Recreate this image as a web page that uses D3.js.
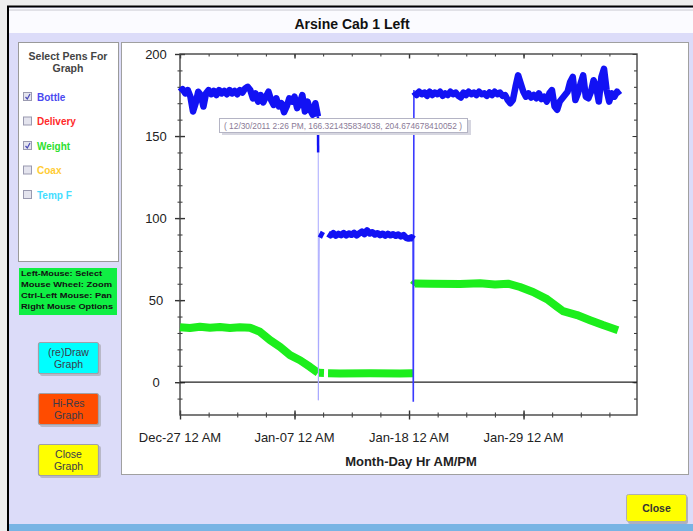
<!DOCTYPE html>
<html>
<head>
<meta charset="utf-8">
<script src="https://cdn.jsdelivr.net/npm/d3@7"></script>
<style>
  html, body { margin: 0; padding: 0; background: #ededed; }
  svg { display: block; font-family: "Liberation Sans", Arial, sans-serif; }
</style>
</head>
<body>
<svg id="chart" width="693" height="531"></svg>
<script>
// ---------------- DATA ----------------
const chartTitle = "Arsine Cab 1 Left";
const xAxisTitle = "Month-Day Hr AM/PM";
// time is expressed in days after Dec-27-2011 12 AM
const xTickDays   = [0, 11, 22, 33];
const xTickLabels = ["Dec-27 12 AM", "Jan-07 12 AM", "Jan-18 12 AM", "Jan-29 12 AM"];
const yTickValues = [0, 50, 100, 150, 200];
const yTickLabels = ["0", "50", "100", "150", "200"];

const pens = ["Bottle", "Delivery", "Weight", "Coax", "Temp F"];
const penChecked = [true, false, true, false, false];
const penColors = ["#4a4af0", "#ff2a2a", "#2ee02e", "#ffcc33", "#44ddff"];

const helpLines = ["Left-Mouse: Select", "Mouse Wheel: Zoom", "Ctrl-Left Mouse: Pan", "Right Mouse Options"];
const buttons = [["(re)Draw", "Graph"], ["Hi-Res", "Graph"], ["Close", "Graph"]];
const buttonColors = ["#00ffff", "#ff4c00", "#ffff00"];
const tooltipText = "( 12/30/2011 2:26 PM, 166.321435834038, 204.674678410052 )";

// Bottle pen, logged every 0.25 day
const bottleStep = 0.25;
const bottle1Start = 0;
const bottle1 = [177,178.5,176,178,174,165,170,177,175,168,176,178,175.5,177.5,175,178,176,177.5,175.5,178,
  176,177.5,175.5,178,176.5,179,180,178,173,176,171,175,170.5,174,177,172,169,173,168,170,
  164.5,168,173,171,174,167,170,175,165,171,166,163,170,162];
const bottle2aStart = 13.38;
const bottle2a = [90.5, 89.2];
const bottle2bStart = 14.22;
const bottle2b = [90.5,89.5,90.8,89.3,90.4,89.6,90.9,89.4,90.6,89.8,91,89.5,90.7,91.8,90.2,92.5,90.6,91.4,90,90.8,
  89.6,90.5,89.3,90.4,89.5,90.2,89.2,90,88.8,89.6,88,87.5,88.3,87.2];
const bottle3Start = 22.48;
const bottle3 = [177,175,177,175.5,176.5,174.5,177,175,176.5,175.5,177,174.5,176,175,177,175.5,176.5,174.5,173.5,176.5,
  175,177,175.5,176.5,175,177,175.5,176,174.5,176.5,175,177,175.5,176.5,174.5,175,172,170,172,180,
  187,182,177,174,176,173.5,175,173,176,172.5,174,171,176,178,168,166,171,173,175,177,
  183,186,172,176,182,187,174,173,177,184,180,171,186,191,178,171,176,174,177,175];
// Bottle pen drops between the segments: [day, value]
const bottleDrop1 = [[13.25, 162], [13.27, 140]];
const bottleLink1 = [[13.28, 140], [13.29, -11], [13.38, 90.5]];
const bottleLink2 = [[22.39, 87.2], [22.41, -12], [22.47, 178]];

// Weight pen: [day, value]
const weight1  = [[0,33.5],[0.96,33],[1.92,33.8],[2.88,33.2],[3.84,33.6],[4.8,33],[5.76,33.5],[6.72,33.2],
  [7.68,30.7],[8.65,25.6],[9.61,21.5],[10.57,16.5],[11.53,13.4],[12.49,9.3],[13.26,5.7]];
const weight2a = [[13.36,5.7],[13.83,5.6]];
const weight2b = [[14.22,5.4],[15.37,5.3],[18.25,5.5],[21.13,5.3],[22.38,5.4]];
const weight3  = [[22.42,59],[22.55,60.2],[24.02,60],[26.9,59.8],[28.82,60.3],[30.26,59.5],[31.51,60],
  [32.66,58],[33.91,55],[35.25,50.6],[36.22,46],[36.79,43.3],[38.14,40.9],[39.39,37.8],[40.63,34.8],[42.07,31.7]];

// ---------------- DRAW ----------------
const START = new Date(2011, 11, 27, 0, 0, 0).getTime();
const DAY = 864e5;
const toDate = d => new Date(START + d * DAY);

const svg = d3.select("#chart");

// window chrome
svg.append("rect").attr("x", 0).attr("y", 0).attr("width", 693).attr("height", 531).attr("fill", "#eeeeee");
svg.append("rect").attr("x", 8).attr("y", 6).attr("width", 685).attr("height", 525).attr("fill", "#dcdcf9");
svg.append("rect").attr("x", 8).attr("y", 8).attr("width", 685).attr("height", 25).attr("fill", "#fbfbff");
svg.append("line").attr("x1", 9).attr("x2", 693).attr("y1", 10).attr("y2", 10).attr("stroke", "#c8c8d0");
svg.append("line").attr("x1", 7).attr("x2", 693).attr("y1", 6.5).attr("y2", 6.5).attr("stroke", "#000").attr("stroke-width", 2);
svg.append("line").attr("x1", 8).attr("x2", 8).attr("y1", 6).attr("y2", 531).attr("stroke", "#000").attr("stroke-width", 2);
svg.append("rect").attr("x", 9).attr("y", 524).attr("width", 684).attr("height", 7).attr("fill", "#78b4e4");

svg.append("text").attr("x", 352).attr("y", 29).attr("text-anchor", "middle")
  .attr("font-size", 14).attr("font-weight", "bold").attr("fill", "#111").text(chartTitle);

// left pens panel
svg.append("rect").attr("x", 18.5).attr("y", 42.5).attr("width", 100).attr("height", 219)
  .attr("fill", "#fff").attr("stroke", "#9a9a9a");
svg.append("text").attr("x", 68).attr("y", 60).attr("text-anchor", "middle").attr("font-size", 10.5)
  .attr("font-weight", "bold").attr("fill", "#444").text("Select Pens For");
svg.append("text").attr("x", 68).attr("y", 72).attr("text-anchor", "middle").attr("font-size", 10.5)
  .attr("font-weight", "bold").attr("fill", "#444").text("Graph");
const penG = svg.append("g");
pens.forEach((p, i) => {
  const cy = 97 + i * 24.5;
  penG.append("rect").attr("x", 23.5).attr("y", cy - 4.5).attr("width", 8).attr("height", 8)
    .attr("fill", "#e4e4ee").attr("stroke", "#9a9ab0");
  if (penChecked[i]) {
    penG.append("path").attr("d", `M25.5,${cy} L27.3,${cy + 2} L30,${cy - 3}`)
      .attr("fill", "none").attr("stroke", "#4a4ab8").attr("stroke-width", 1.2);
  }
  penG.append("text").attr("x", 37).attr("y", cy + 3.5).attr("font-size", 10).attr("font-weight", "bold")
    .attr("fill", penColors[i]).text(p);
});

// help box
svg.append("rect").attr("x", 19).attr("y", 268).attr("width", 98).attr("height", 47).attr("fill", "#10ee44");
const helpWidths = [81, 91, 91, 92];
helpLines.forEach((t, i) => {
  svg.append("text").attr("x", 21).attr("y", 276 + i * 11).attr("font-size", 8).attr("font-weight", "bold")
    .attr("textLength", helpWidths[i]).attr("lengthAdjust", "spacingAndGlyphs")
    .attr("fill", "#111").text(t);
});

// buttons
const btnTops = [342, 393, 444];
buttons.forEach((b, i) => {
  const y0 = btnTops[i];
  svg.append("rect").attr("x", 40).attr("y", y0 + 2).attr("width", 61).attr("height", 32).attr("rx", 2)
    .attr("fill", "#b8b8c8");
  svg.append("rect").attr("x", 38.5).attr("y", y0 + 0.5).attr("width", 60).attr("height", 31).attr("rx", 2)
    .attr("fill", buttonColors[i]).attr("stroke", "#a0a0a8").attr("stroke-width", 1.2);
  svg.append("text").attr("x", 68.5).attr("y", y0 + 14).attr("text-anchor", "middle").attr("font-size", 10.5)
    .attr("fill", "#3a3a4a").text(b[0]);
  svg.append("text").attr("x", 68.5).attr("y", y0 + 26).attr("text-anchor", "middle").attr("font-size", 10.5)
    .attr("fill", "#3a3a4a").text(b[1]);
});

// Close button
svg.append("rect").attr("x", 628).attr("y", 496).attr("width", 60).attr("height", 28).attr("rx", 2).attr("fill", "#b0b0c0");
svg.append("rect").attr("x", 626.5).attr("y", 494.5).attr("width", 60).attr("height", 27).attr("rx", 2)
  .attr("fill", "#ffff00").attr("stroke", "#b0b0b0");
svg.append("text").attr("x", 656.5).attr("y", 512).attr("text-anchor", "middle").attr("font-size", 10.5)
  .attr("font-weight", "bold").attr("fill", "#333").text("Close");

// chart panel
svg.append("rect").attr("x", 121.5).attr("y", 42.5).attr("width", 567).attr("height", 432)
  .attr("fill", "#fff").attr("stroke", "#a0a0a0");

// scales
const x = d3.scaleTime().domain([toDate(0), toDate(43.9)]).range([180, 637]);
const y = d3.scaleLinear().domain([-20, 200]).range([415, 54]);

const minorXDays = d3.range(0, 43.9, 2.75);
const minorYVals = d3.range(-10, 200, 10);

const axColor = "#333";
// bottom axis (ticks crossing)
const gB = svg.append("g").attr("transform", "translate(0,415)");
gB.call(d3.axisBottom(x).tickValues(minorXDays.map(toDate)).tickSize(2.5).tickFormat(""));
gB.selectAll(".tick line").attr("y1", -2.5);
const gB2 = svg.append("g").attr("transform", "translate(0,415)");
gB2.call(d3.axisBottom(x).tickValues(xTickDays.map(toDate)).tickSize(4.5).tickFormat(""));
gB2.selectAll(".tick line").attr("y1", -4.5).attr("stroke-width", 1.4);
// top axis (ticks inward)
const gT = svg.append("g").attr("transform", "translate(0,54)");
gT.call(d3.axisTop(x).tickValues(minorXDays.map(toDate)).tickSize(-2.5).tickFormat(""));
const gT2 = svg.append("g").attr("transform", "translate(0,54)");
gT2.call(d3.axisTop(x).tickValues(xTickDays.map(toDate)).tickSize(-4.5).tickFormat(""));
gT2.selectAll(".tick line").attr("stroke-width", 1.4);
// left axis (ticks crossing)
const gL = svg.append("g").attr("transform", "translate(180,0)");
gL.call(d3.axisLeft(y).tickValues(minorYVals).tickSize(2.5).tickFormat(""));
gL.selectAll(".tick line").attr("x1", 2.5);
const gL2 = svg.append("g").attr("transform", "translate(180,0)");
gL2.call(d3.axisLeft(y).tickValues(yTickValues).tickSize(5).tickFormat(""));
gL2.selectAll(".tick line").attr("x1", 5).attr("stroke-width", 1.4);
// right axis (ticks inward)
const gR = svg.append("g").attr("transform", "translate(637,0)");
gR.call(d3.axisRight(y).tickValues(minorYVals).tickSize(-3).tickFormat(""));
const gR2 = svg.append("g").attr("transform", "translate(637,0)");
gR2.call(d3.axisRight(y).tickValues(yTickValues).tickSize(-4.5).tickFormat(""));
svg.selectAll(".domain").remove();
svg.selectAll(".tick line").attr("stroke", axColor);

// frame
svg.append("rect").attr("x", x(toDate(0))).attr("y", y(200)).attr("width", x(toDate(43.9)) - x(toDate(0)))
  .attr("height", y(-20) - y(200)).attr("fill", "none").attr("stroke", "#444").attr("stroke-width", 1.4);
// zero line
svg.append("line").attr("x1", x(toDate(0))).attr("x2", x(toDate(43.9))).attr("y1", y(0)).attr("y2", y(0))
  .attr("stroke", "#222").attr("stroke-width", 1.3);

// tick labels
yTickValues.forEach((v, i) => {
  svg.append("text").attr("x", 156).attr("y", y(v) + 4.5).attr("text-anchor", "middle")
    .attr("font-size", 13).attr("fill", "#222").text(yTickLabels[i]);
});
xTickDays.forEach((d, i) => {
  svg.append("text").attr("x", x(toDate(d))).attr("y", 442).attr("text-anchor", "middle")
    .attr("font-size", 13).attr("fill", "#222").text(xTickLabels[i]);
});
svg.append("text").attr("x", 411).attr("y", 466).attr("text-anchor", "middle").attr("font-size", 13)
  .attr("font-weight", "bold").attr("fill", "#222").text(xAxisTitle);

// series
const line = d3.line().x(d => x(toDate(d[0]))).y(d => y(d[1])).curve(d3.curveLinear);
const stepped = (start, vals, step) => vals.map((v, i) => [start + i * step, v]);

const GREEN = "#1cee1c";
const BLUE = "#1212f4";
[weight1, weight2a, weight2b, weight3].forEach(seg => {
  svg.append("path").attr("d", line(seg)).attr("fill", "none").attr("stroke", GREEN)
    .attr("stroke-width", 8).attr("stroke-linejoin", "round");
});

svg.append("path").attr("d", line(bottleLink1)).attr("fill", "none").attr("stroke", "#a8a8ff").attr("stroke-width", 1);
svg.append("path").attr("d", line(bottleLink2)).attr("fill", "none").attr("stroke", "#3a3aff").attr("stroke-width", 1.6);
svg.append("path").attr("d", line(bottleDrop1)).attr("fill", "none").attr("stroke", BLUE).attr("stroke-width", 2.5);

[stepped(bottle1Start, bottle1, bottleStep), stepped(bottle2aStart, bottle2a, 0.4),
 stepped(bottle2bStart, bottle2b, bottleStep), stepped(bottle3Start, bottle3, bottleStep)].forEach(seg => {
  svg.append("path").attr("d", line(seg)).attr("fill", "none").attr("stroke", BLUE)
    .attr("stroke-width", 6.5).attr("stroke-linejoin", "round");
});

// tooltip
svg.append("rect").attr("x", 222).attr("y", 120).attr("width", 249).attr("height", 15).attr("fill", "#d6d6e0");
svg.append("rect").attr("x", 219.5).attr("y", 118.5).attr("width", 248).attr("height", 14)
  .attr("fill", "#fff").attr("stroke", "#b4b4c4");
svg.append("text").attr("x", 224).attr("y", 129).attr("font-size", 8.5).attr("fill", "#8a7a96")
  .attr("textLength", 238).attr("lengthAdjust", "spacingAndGlyphs").text(tooltipText);
</script>
</body>
</html>
